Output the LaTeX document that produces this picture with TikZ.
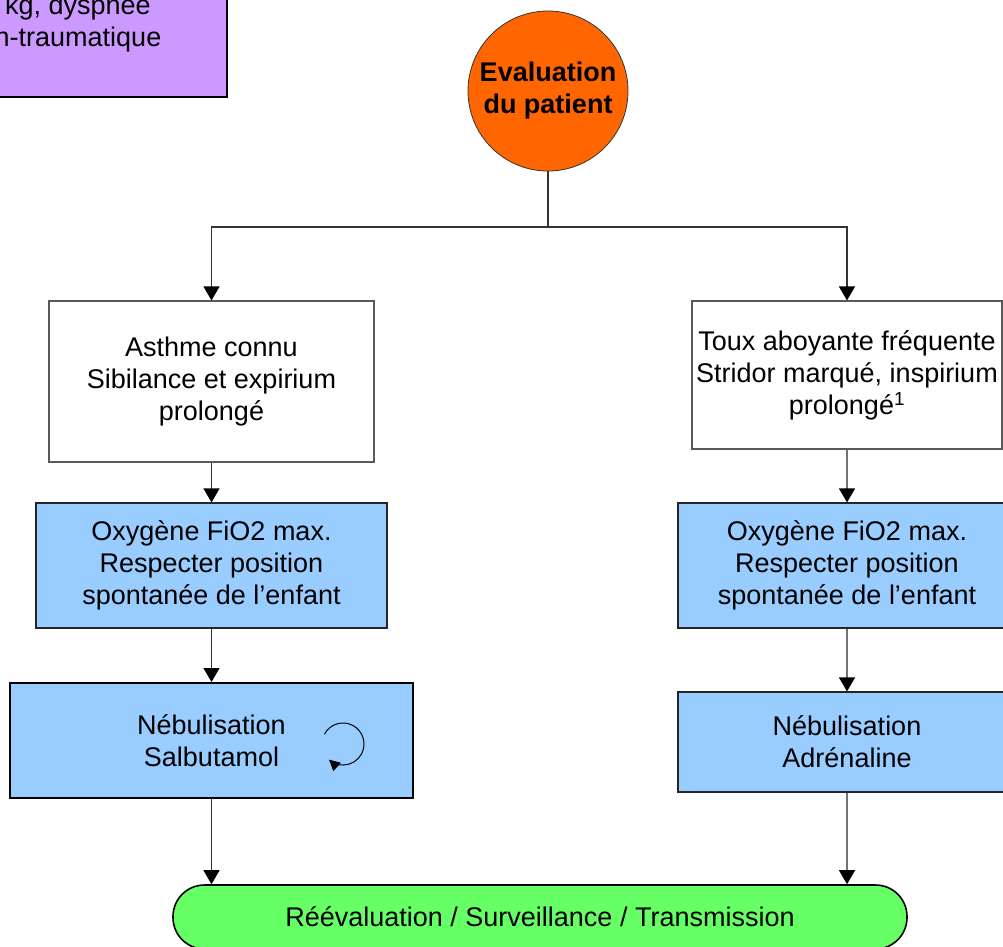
\documentclass[tikz,border=0pt]{standalone}
\usepackage{fontspec}
\setmainfont{Liberation Sans}
\usetikzlibrary{arrows.meta}
\definecolor{cblue}{HTML}{99CCFF}
\definecolor{cgreen}{HTML}{66FF66}
\definecolor{corange}{HTML}{FF6600}
\definecolor{cpurple}{HTML}{CC99FF}
\tikzset{
  txt/.style={font=\fontsize{27}{32}\selectfont, align=center, inner sep=0pt},
  boxw/.style={txt, draw=black!65, line width=1.1pt, fill=white, rectangle},
  boxb/.style={txt, draw=black!85, line width=1.2pt, fill=cblue, rectangle},
  conn/.style={line width=1.2pt, draw=black!80},
  arr/.style={conn, -{Triangle[width=16pt,length=14pt,color=black]}},
  connr/.style={line width=1.2pt, draw=black!55},
  arrr/.style={connr, -{Triangle[width=16pt,length=14pt,color=black]}},
}
\begin{document}
\begin{tikzpicture}[x=1pt,y=-1pt]
\useasboundingbox (0,0) rectangle (1003,946);
% purple box (partly outside the page)
\node[draw=black, line width=1.5pt, fill=cpurple, minimum width=310, minimum height=140, inner sep=0pt] (pur) at (72,27) {};
\node[txt, anchor=center] (purt) at (78,23) {kg, dyspnée\\n-traumatique};
% evaluation circle
\node[circle, draw=black!80, line width=0.8pt, fill=corange, minimum size=160, inner sep=0pt,
      font=\fontsize{27}{32}\selectfont\bfseries, align=center] (ev) at (548,91) {\raisebox{-2pt}{Evaluation}\\\raisebox{-2pt}{du patient}};
\coordinate (split) at (548,227);
% left column
\node[boxw, minimum width=325, minimum height=161] (a1) at (211.5,381.5) {Asthme connu\\Sibilance et expirium\\prolongé};
\node[boxb, minimum width=351, minimum height=125] (a2) at (211.5,565.5) {Oxygène FiO2 max.\\Respecter position\\spontanée de l’enfant};
\node[boxb, draw=black, line width=2pt, minimum width=403, minimum height=115] (a3) at (211.5,740.5) {Nébulisation\\Salbutamol};
% right column
\node[boxw, minimum width=310, minimum height=148] (b1) at (847,375) {Toux aboyante fréquente\\Stridor marqué, inspirium\\prolongé\textsuperscript{1}};
\node[boxb, minimum width=338, minimum height=125] (b2) at (847,565.5) {Oxygène FiO2 max.\\Respecter position\\spontanée de l’enfant};
\node[boxb, minimum width=338, minimum height=100] (b3) at (847,742) {Nébulisation\\Adrénaline};
% final
\node[txt, draw=black, line width=1.6pt, fill=cgreen, rounded corners=31.5, minimum width=734, minimum height=64] (fin) at (540,917) {Réévaluation / Surveillance / Transmission};
% connectors
\draw[conn] (ev.south) -- (split);
\draw[arr] (split) -| (a1.north);
\draw[arr] (split) -| (b1.north);
\draw[arr] (a1.south) -- (a2.north);
\draw[arr] (a2.south) -- (a3.north);
\draw[arr] (a3.south) -- (a3.south |- fin.north);
\draw[arrr] (b1.south) -- (b2.north);
\draw[arrr] (b2.south) -- (b3.north);
\draw[arrr] (b3.south) -- (b3.south |- fin.north);
% circular arrow
\coordinate (rc) at (343,744);
\draw[line width=1pt, -{Triangle[width=11pt,length=11pt]}] (rc) ++(208:21) arc[start angle=208, end angle=492, radius=21];
\end{tikzpicture}
\end{document}
